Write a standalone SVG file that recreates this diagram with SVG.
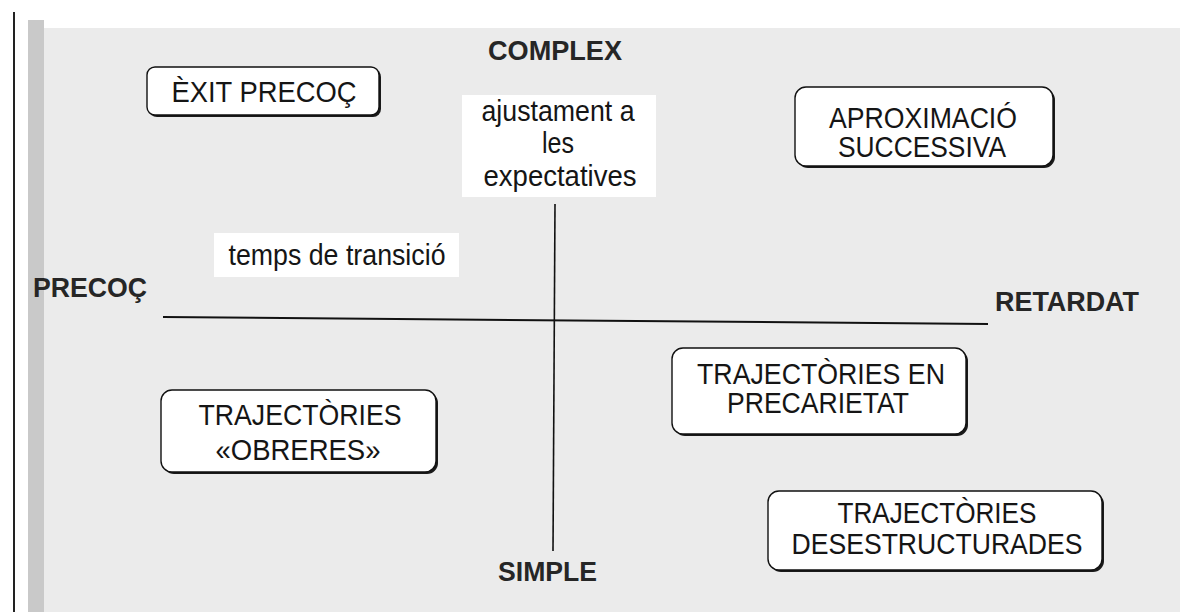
<svg xmlns="http://www.w3.org/2000/svg" width="1180" height="612" viewBox="0 0 1180 612">
  <defs>
    <style>
      .bg { fill: #ebebeb; }
      .gutter { fill: #c9c9c9; }
      .box { fill: #ffffff; stroke: #111111; stroke-width: 1.4; }
      .shadow { fill: #1a1a1a; }
      .t { font-family: "Liberation Sans", Arial, sans-serif; font-size: 29px; fill: #151515; text-anchor: middle; }
      .b { font-family: "Liberation Sans", Arial, sans-serif; font-size: 27px; font-weight: bold; fill: #262626; }
      .axis { stroke: #111111; fill: none; }
      .wbg { fill: #ffffff; }
    </style>
  </defs>
  <rect x="0" y="0" width="1180" height="612" fill="#ffffff"/>
  <rect class="bg" x="40" y="28" width="1140" height="584"/>
  <rect class="gutter" x="28" y="20" width="16" height="592"/>
  <line x1="14" y1="12" x2="14" y2="612" stroke="#222222" stroke-width="2"/>

  <g id="connectors">
    <line class="axis" x1="163" y1="317" x2="988" y2="324" stroke-width="2"/>
    <line class="axis" x1="555" y1="204" x2="553" y2="551" stroke-width="1.6"/>
  </g>

  <g id="complex">
    <text class="b" x="555" y="60" text-anchor="middle" textLength="134" lengthAdjust="spacingAndGlyphs">COMPLEX</text>
  </g>
  <g id="simple">
    <text class="b" x="498" y="581" textLength="99" lengthAdjust="spacingAndGlyphs">SIMPLE</text>
  </g>
  <g id="precoc">
    <text class="b" x="33" y="297" textLength="114" lengthAdjust="spacingAndGlyphs">PRECOÇ</text>
  </g>
  <g id="retardat">
    <text class="b" x="995" y="311" textLength="144" lengthAdjust="spacingAndGlyphs">RETARDAT</text>
  </g>

  <g id="ajustament">
    <rect class="wbg" x="462" y="95" width="194" height="102"/>
    <text class="t" x="558" y="121" textLength="153" lengthAdjust="spacingAndGlyphs">ajustament a</text>
    <text class="t" x="558" y="153" textLength="32" lengthAdjust="spacingAndGlyphs">les</text>
    <text class="t" x="560" y="186" textLength="153" lengthAdjust="spacingAndGlyphs">expectatives</text>
  </g>

  <g id="temps">
    <rect class="wbg" x="214" y="233" width="245" height="44"/>
    <text class="t" x="337" y="265" textLength="217" lengthAdjust="spacingAndGlyphs">temps de transició</text>
  </g>

  <g id="exit-precoc">
    <rect class="shadow" x="149" y="69" width="232" height="48" rx="8"/>
    <rect class="box" x="147" y="67" width="232" height="48" rx="8"/>
    <text class="t" x="264" y="102" textLength="185" lengthAdjust="spacingAndGlyphs">ÈXIT PRECOÇ</text>
  </g>

  <g id="aproximacio">
    <rect class="shadow" x="797" y="89" width="258" height="79" rx="11"/>
    <rect class="box" x="795" y="87" width="258" height="79" rx="11"/>
    <text class="t" x="923" y="128" textLength="188" lengthAdjust="spacingAndGlyphs">APROXIMACIÓ</text>
    <text class="t" x="922" y="157" textLength="168" lengthAdjust="spacingAndGlyphs">SUCCESSIVA</text>
  </g>

  <g id="precarietat">
    <rect class="shadow" x="674" y="350" width="294" height="86" rx="11"/>
    <rect class="box" x="672" y="348" width="294" height="86" rx="11"/>
    <text class="t" x="821" y="384" textLength="248" lengthAdjust="spacingAndGlyphs">TRAJECTÒRIES EN</text>
    <text class="t" x="818" y="413" textLength="182" lengthAdjust="spacingAndGlyphs">PRECARIETAT</text>
  </g>

  <g id="obreres">
    <rect class="shadow" x="163" y="392" width="275" height="82" rx="11"/>
    <rect class="box" x="161" y="390" width="275" height="82" rx="11"/>
    <text class="t" x="300" y="425" textLength="203" lengthAdjust="spacingAndGlyphs">TRAJECTÒRIES</text>
    <text class="t" x="298" y="460" textLength="165" lengthAdjust="spacingAndGlyphs">«OBRERES»</text>
  </g>

  <g id="desestructurades">
    <rect class="shadow" x="770" y="493" width="334" height="79" rx="11"/>
    <rect class="box" x="768" y="491" width="334" height="79" rx="11"/>
    <text class="t" x="937" y="523" textLength="199" lengthAdjust="spacingAndGlyphs">TRAJECTÒRIES</text>
    <text class="t" x="937" y="554" textLength="291" lengthAdjust="spacingAndGlyphs">DESESTRUCTURADES</text>
  </g>
</svg>
